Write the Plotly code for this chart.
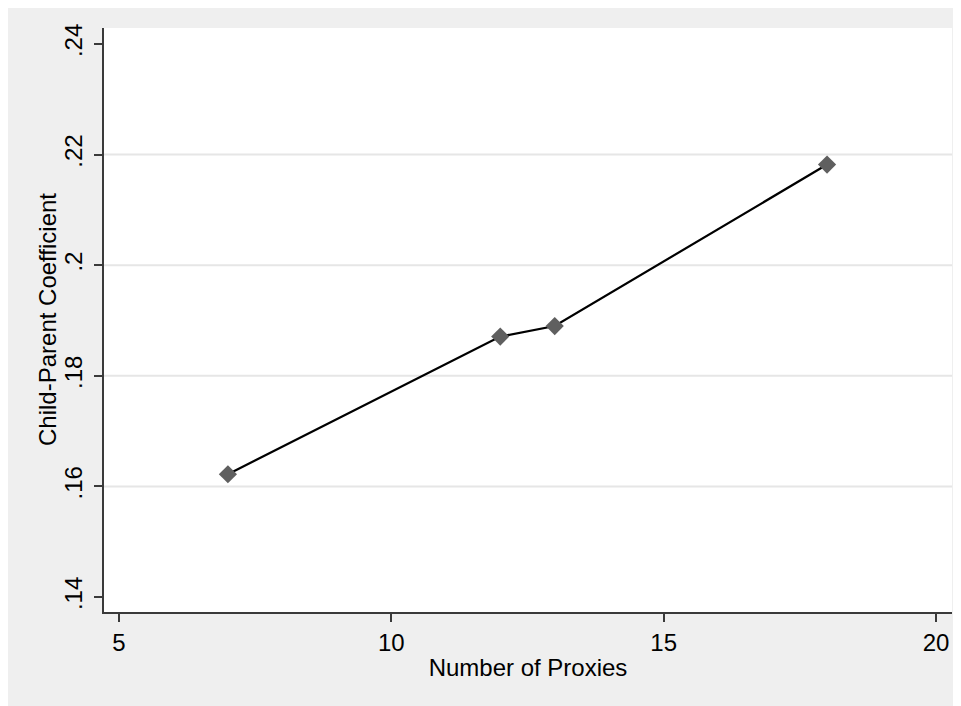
import plotly.graph_objects as go

num_proxies = [7, 12, 13, 18]
coefficients = [0.1622, 0.1871, 0.1890, 0.2182]

x_ticks = [5, 10, 15, 20]
y_ticks = [0.14, 0.16, 0.18, 0.20, 0.22, 0.24]
y_tick_labels = [".14", ".16", ".18", ".2", ".22", ".24"]
grid_values = [0.16, 0.18, 0.20, 0.22]

FONT = "Liberation Sans, Arial, Helvetica, sans-serif"

fig = go.Figure()
fig.add_trace(go.Scatter(
    x=num_proxies, y=coefficients, mode="lines+markers",
    line=dict(color="black", width=2.2),
    marker=dict(symbol="diamond", size=14, color="#5f5f5f", line=dict(width=0)),
    showlegend=False, cliponaxis=False,
))

for g in grid_values:
    fig.add_shape(type="line", xref="paper", yref="y", x0=0, x1=1, y0=g, y1=g,
                  line=dict(color="#e6e6e6", width=2), layer="below")

fig.add_annotation(
    text="Child-Parent Coefficient", textangle=-90,
    xref="paper", yref="paper", x=0, y=0.5, xanchor="center", yanchor="middle",
    xshift=-57, showarrow=False, font=dict(size=24, color="black"),
)

fig.update_layout(
    width=953, height=698,
    margin=dict(l=96, r=9, t=20, b=94),
    paper_bgcolor="#efefef", plot_bgcolor="white",
    font=dict(family=FONT, size=24, color="black"),
    xaxis=dict(
        range=[4.725, 20.294], tickvals=x_ticks, ticktext=[str(v) for v in x_ticks],
        showgrid=False, zeroline=False, showline=True, linecolor="#3a3a3a", linewidth=2,
        ticks="outside", ticklen=8, tickwidth=1.5, tickcolor="#3a3a3a",
        title=dict(text="Number of Proxies", standoff=4, font=dict(size=24)),
        tickfont=dict(size=24),
    ),
    yaxis=dict(
        range=[0.13729, 0.24289], tickvals=y_ticks, ticktext=y_tick_labels,
        showgrid=False, zeroline=False, showline=True, linecolor="#3a3a3a", linewidth=2,
        ticks="outside", ticklen=8, tickwidth=1.5, tickcolor="#3a3a3a",
        tickangle=-90, tickfont=dict(size=24), ticklabelstandoff=2,
    ),
)

fig.write_html("out.html")
